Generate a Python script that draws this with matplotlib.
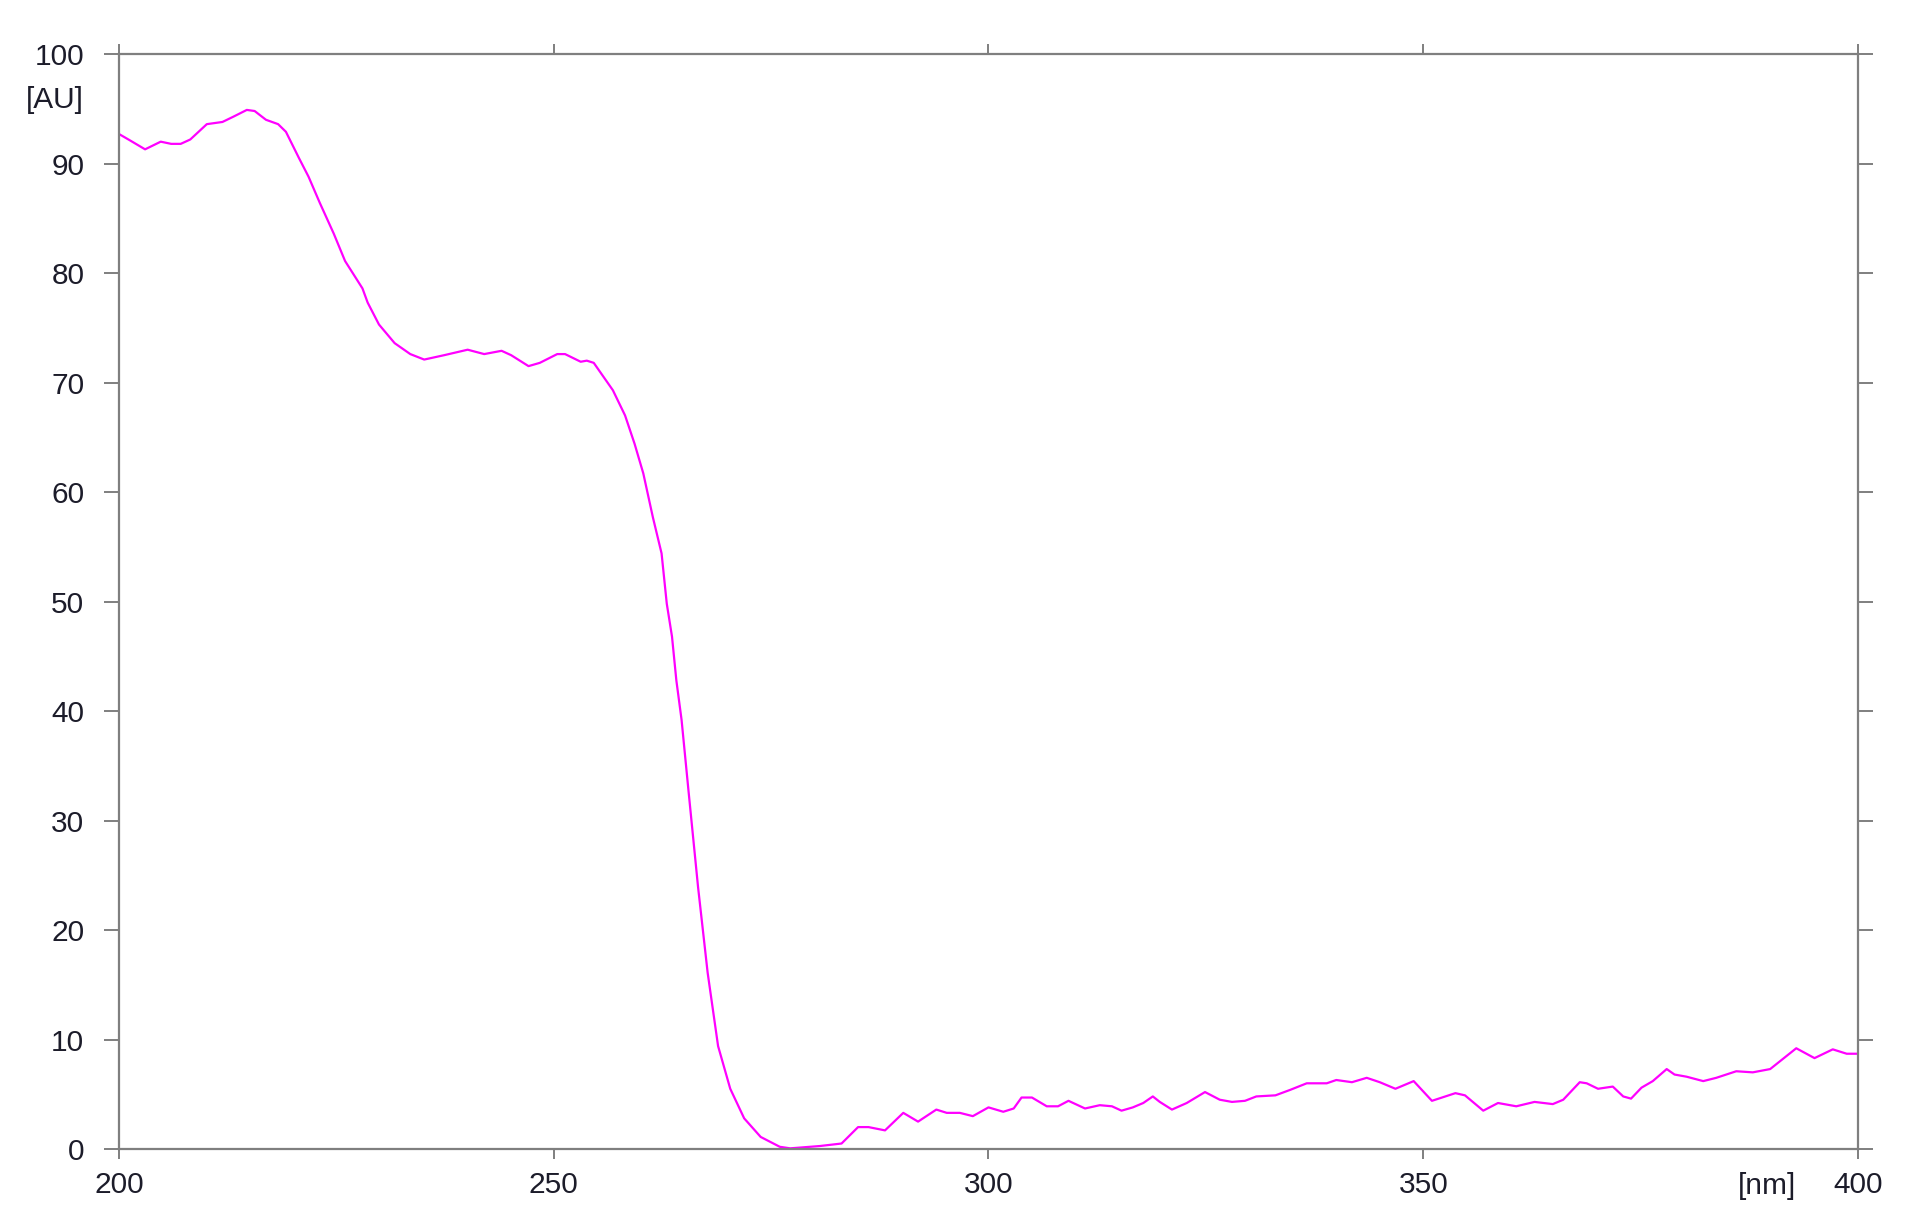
# UV spectrum, absorbance vs wavelength
import matplotlib.pyplot as plt

plt.rcParams['font.family'] = ['Liberation Sans', 'DejaVu Sans']

# wavelengths (nm) and absorbance (AU)
wavelength = [200.0, 201.3, 203.0, 204.8, 206.0, 207.1, 208.2, 210.1, 211.9, 213.2,
              214.7, 215.6, 216.9, 218.3, 219.2, 220.7, 221.8, 223.1, 224.7, 226.0,
              228.0, 228.6, 229.9, 231.7, 233.5, 235.1, 237.4, 240.1, 242.0, 244.0,
              245.1, 247.1, 248.4, 250.4, 251.3, 253.1, 253.8, 254.6, 256.8, 258.2,
              259.3, 260.3, 261.4, 262.4, 263.0, 263.6, 264.1, 264.7, 265.5, 266.6,
              267.7, 268.9, 270.3, 271.9, 273.8, 276.0, 277.2, 280.6, 283.1, 285.0,
              286.2, 288.1, 290.2, 291.9, 294.0, 295.2, 296.7, 298.2, 300.0, 301.7,
              302.9, 303.8, 305.0, 306.7, 308.0, 309.2, 311.1, 312.8, 314.2, 315.3,
              316.6, 317.8, 318.9, 319.7, 321.1, 322.8, 324.9, 326.6, 328.0, 329.5,
              330.8, 333.0, 334.7, 336.6, 338.9, 340.0, 341.8, 343.5, 345.0, 346.8,
              348.9, 351.0, 353.7, 354.8, 356.9, 358.6, 360.7, 362.8, 364.9, 366.1,
              368.0, 368.8, 370.1, 371.8, 373.0, 373.9, 375.1, 376.4, 378.0, 378.9,
              380.3, 382.2, 383.7, 386.0, 387.9, 389.9, 391.0, 392.9, 395.0, 397.1,
              398.7, 400.0]
absorbance = [92.7, 92.1, 91.3, 92.0, 91.8, 91.8, 92.2, 93.6, 93.8, 94.3,
              94.9, 94.8, 94.0, 93.6, 92.9, 90.5, 88.8, 86.4, 83.6, 81.1,
              78.6, 77.3, 75.3, 73.6, 72.6, 72.1, 72.5, 73.0, 72.6, 72.9,
              72.5, 71.5, 71.8, 72.6, 72.6, 71.9, 72.0, 71.8, 69.3, 67.0,
              64.4, 61.7, 57.7, 54.4, 49.8, 46.8, 42.8, 39.2, 32.7, 23.9,
              16.1, 9.4, 5.5, 2.8, 1.1, 0.2, 0.06, 0.27, 0.5, 2.0,
              2.0, 1.7, 3.3, 2.5, 3.6, 3.3, 3.3, 3.0, 3.8, 3.4,
              3.7, 4.7, 4.7, 3.9, 3.9, 4.4, 3.7, 4.0, 3.9, 3.5,
              3.8, 4.2, 4.8, 4.3, 3.6, 4.2, 5.2, 4.5, 4.3, 4.4,
              4.8, 4.9, 5.4, 6.0, 6.0, 6.3, 6.1, 6.5, 6.1, 5.5,
              6.2, 4.4, 5.1, 4.9, 3.5, 4.2, 3.9, 4.3, 4.1, 4.5,
              6.1, 6.0, 5.5, 5.7, 4.8, 4.6, 5.6, 6.2, 7.3, 6.8,
              6.6, 6.2, 6.5, 7.1, 7.0, 7.3, 8.0, 9.2, 8.3, 9.1,
              8.7, 8.7]

x_ticks = [200, 250, 300, 350, 400]
y_ticks = [0, 10, 20, 30, 40, 50, 60, 70, 80, 90, 100]

fig = plt.figure(figsize=(19.07, 12.29), dpi=100)
ax = fig.add_axes([0.0624, 0.0651, 0.9119, 0.8909])

ax.plot(wavelength, absorbance, color='#ff00ff', linewidth=1.6)

ax.set_xlim(200, 400)
ax.set_ylim(0, 100)
ax.set_xticks(x_ticks)
ax.set_yticks(y_ticks)

for s in ax.spines.values():
    s.set_color('#7f7f7f')
    s.set_linewidth(1.6)

ax.tick_params(axis='both', which='both', direction='out', color='#7f7f7f',
               width=1.4, labelsize=21.5, labelcolor='#1c1c2a')
ax.tick_params(axis='y', length=11, pad=14, left=True, right=True)
ax.tick_params(axis='x', length=7.5, pad=8, top=True, bottom=True)

# units placed like the instrument software does
fig.text(0.029, 1 - 100 / 1229, '[AU]', fontsize=21.5, color='#1c1c2a',
         ha='center', va='center')
fig.text(1767 / 1907, 1 - 1186 / 1229, '[nm]', fontsize=21.5, color='#1c1c2a',
         ha='center', va='center')

fig.savefig('out.png', dpi=100)
